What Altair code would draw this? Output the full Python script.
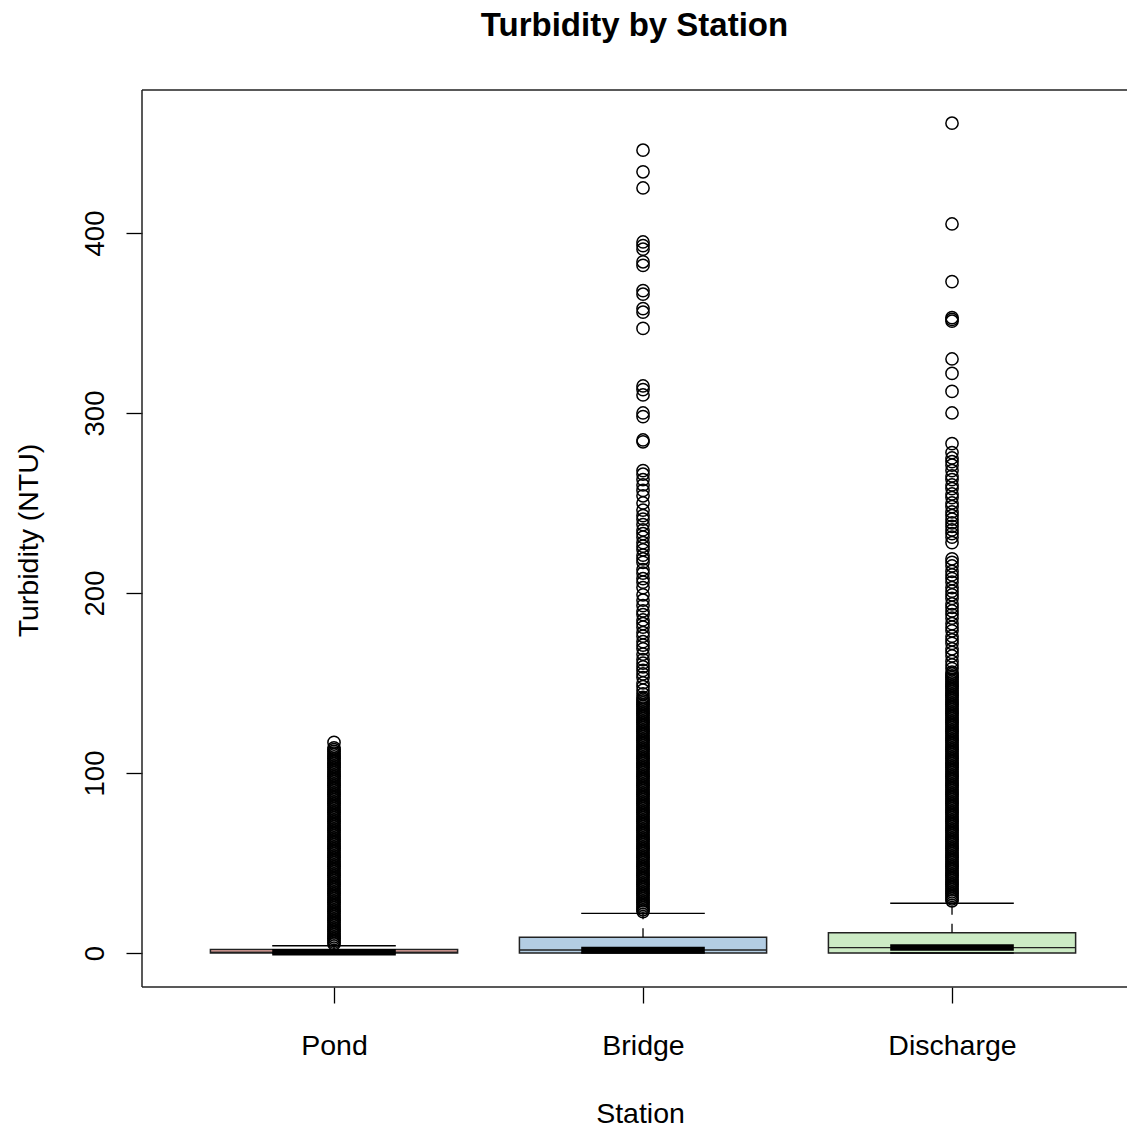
import altair as alt
import pandas as pd

# ---------------- data ----------------
stations = ["Pond", "Bridge", "Discharge"]
positions = [1, 2, 3]
box_fill = ["#FBB4AE", "#B3CDE3", "#CCEBC5"]
q1 = [0.0, 0.0, 0.0]
median = [0.4, 1.7, 3.0]
q3 = [2.0, 8.7, 11.3]
whisker_low = [0.0, 0.0, 0.0]
whisker_high = [4.0, 22.0, 27.6]

pond_out = [
    5, 6, 7, 8, 9, 10, 11, 12, 13, 14, 15, 16, 17, 18, 19, 20, 21, 22, 23, 24,
    25, 26, 27, 28, 29, 30, 31, 32, 33, 34, 35, 36, 37, 38, 39, 40, 41, 42, 43, 44,
    45, 46, 47, 48, 49, 50, 51, 52, 53, 54, 55, 56, 57, 58, 59, 60, 61, 62, 63, 64,
    65, 66, 67, 68, 69, 70, 71, 72, 73, 74, 75, 76, 77, 78, 79, 80, 81, 82, 83, 84,
    85, 86, 87, 88, 89, 90, 91, 92, 93, 94, 95, 96, 97, 98, 99, 100, 101, 102, 103, 104,
    105, 106, 107, 108, 109, 110, 111, 112, 113, 114, 117,
]

bridge_out = [
    23, 24, 25, 26, 27, 28, 29, 30, 31, 32, 33, 34, 35, 36, 37, 38, 39, 40, 41, 42,
    43, 44, 45, 46, 47, 48, 49, 50, 51, 52, 53, 54, 55, 56, 57, 58, 59, 60, 61, 62,
    63, 64, 65, 66, 67, 68, 69, 70, 71, 72, 73, 74, 75, 76, 77, 78, 79, 80, 81, 82,
    83, 84, 85, 86, 87, 88, 89, 90, 91, 92, 93, 94, 95, 96, 97, 98, 99, 100, 101, 102,
    103, 104, 105, 106, 107, 108, 109, 110, 111, 112, 113, 114, 115, 116, 117, 118, 119, 120, 121, 122,
    123, 124, 125, 126, 127, 128, 129, 130, 131, 132, 133, 134, 135, 136, 137, 138, 139, 140, 141,
    142, 144, 146, 148, 150, 153, 155, 157, 159, 161, 163, 166, 169, 171, 173, 176, 178,
    181, 183, 185, 188, 190, 193, 196, 199, 203, 206, 208, 211, 213,
    217, 219, 221, 224, 226, 228, 231, 233, 235, 238, 241, 243, 246,
    250, 254, 257, 260, 263, 266, 268, 284, 285, 298, 300, 310, 313, 315,
    347, 356, 358, 366, 368, 382, 384, 391, 393, 395, 425, 434, 446,
]

discharge_out = [
    29, 30, 31, 32, 33, 34, 35, 36, 37, 38, 39, 40, 41, 42, 43, 44, 45, 46, 47, 48,
    49, 50, 51, 52, 53, 54, 55, 56, 57, 58, 59, 60, 61, 62, 63, 64, 65, 66, 67, 68,
    69, 70, 71, 72, 73, 74, 75, 76, 77, 78, 79, 80, 81, 82, 83, 84, 85, 86, 87, 88,
    89, 90, 91, 92, 93, 94, 95, 96, 97, 98, 99, 100, 101, 102, 103, 104, 105, 106, 107, 108,
    109, 110, 111, 112, 113, 114, 115, 116, 117, 118, 119, 120, 121, 122, 123, 124, 125, 126, 127, 128,
    129, 130, 131, 132, 133, 134, 135, 136, 137, 138, 139, 140, 141, 142, 143, 144, 145, 146, 147, 148,
    149, 150, 151, 152, 153, 154, 155, 156,
    158, 160, 162, 165, 167, 169, 172, 174, 176, 179, 181, 183, 186, 188, 190, 192, 194, 197,
    199, 201, 203, 206, 208, 210, 212, 215, 217, 219,
    228, 231, 233, 235, 237, 239, 241, 243, 245, 248, 250, 253, 255, 258, 260, 263,
    265, 268, 271, 273, 275, 278, 283, 300, 312, 322, 330, 351, 352, 353, 373, 405, 461,
]

y_ticks = [0, 100, 200, 300, 400]

# ---------------- tables ----------------
boxes = pd.DataFrame({
    "station": stations, "pos": positions, "fill": box_fill,
    "q1": q1, "median": median, "q3": q3, "lo": whisker_low, "hi": whisker_high,
})

out_rows = []
for st, pos, vals in zip(stations, positions, [pond_out, bridge_out, discharge_out]):
    for v in vals:
        out_rows.append({"station": st, "pos": pos, "value": v})
outliers = pd.DataFrame(out_rows)

FONT = "Liberation Sans"
FS = 28.5
W, H = 985, 897
xs = alt.Scale(domain=[0.3786, 3.5663], nice=False, zero=False)
ys = alt.Scale(domain=[-18.89, 479.44], nice=False, zero=False)

x_axis = alt.Axis(
    values=positions, labelExpr="['', 'Pond', 'Bridge', 'Discharge'][datum.value]",
    title="Station", grid=False, domain=False, tickSize=16, tickColor="black",
    tickWidth=1.3, labelPadding=42, labelBaseline="middle", labelFontSize=FS,
    labelFont=FONT, labelColor="black", titleFont=FONT, titleFontSize=FS,
    titleFontWeight="normal", titleColor="black", titleY=126, titleX=498,
    titleBaseline="middle", titleAlign="center",
)
y_axis = alt.Axis(
    values=y_ticks, title="Turbidity (NTU)", grid=False, domain=False, tickSize=16,
    tickColor="black", tickWidth=1.3, labelAngle=270, labelAlign="center",
    labelBaseline="middle", labelPadding=31, labelFontSize=27.5, labelFont=FONT,
    labelColor="black", titleFont=FONT, titleFontSize=FS, titleFontWeight="normal",
    titleColor="black", titleAngle=270, titleX=-114, titleY=450,
    titleBaseline="middle", titleAlign="center",
)

base = alt.Chart(boxes).transform_calculate(
    xl="datum.pos - 0.4", xr="datum.pos + 0.4",
    sl="datum.pos - 0.2", sr="datum.pos + 0.2",
)

rects = base.mark_rect(stroke="#222222", strokeWidth=1.5).encode(
    x=alt.X("xl:Q", scale=xs, axis=x_axis), x2="xr:Q",
    y=alt.Y("q1:Q", scale=ys, axis=y_axis), y2="q3:Q",
    fill=alt.Fill("fill:N", scale=None),
)

whisk_up = base.mark_rule(color="black", strokeWidth=1.3, strokeDash=[9, 9]).encode(
    x=alt.X("pos:Q", scale=xs, axis=x_axis),
    y=alt.Y("q3:Q", scale=ys, axis=y_axis), y2="hi:Q",
)
cap_up = base.mark_rule(color="black", strokeWidth=1.4).encode(
    x=alt.X("sl:Q", scale=xs, axis=x_axis), x2="sr:Q",
    y=alt.Y("hi:Q", scale=ys, axis=y_axis),
)
cap_lo = base.mark_rule(color="black", strokeWidth=1.4).encode(
    x=alt.X("sl:Q", scale=xs, axis=x_axis), x2="sr:Q",
    y=alt.Y("lo:Q", scale=ys, axis=y_axis),
)
med_thin = base.mark_rule(color="#222222", strokeWidth=1.4).encode(
    x=alt.X("xl:Q", scale=xs, axis=x_axis), x2="xr:Q",
    y=alt.Y("median:Q", scale=ys, axis=y_axis),
)
med_thick = base.mark_rule(color="black", strokeWidth=6.5).encode(
    x=alt.X("sl:Q", scale=xs, axis=x_axis), x2="sr:Q",
    y=alt.Y("median:Q", scale=ys, axis=y_axis),
)

points = alt.Chart(outliers).mark_point(
    shape="circle", filled=False, color="black", strokeWidth=1.5, size=150, opacity=1,
).encode(
    x=alt.X("pos:Q", scale=xs, axis=x_axis),
    y=alt.Y("value:Q", scale=ys, axis=y_axis),
)

# plot frame (top, left, bottom); the right side runs past the visible page
frame_src = alt.Chart(pd.DataFrame({"k": [0]}))
frame_top = frame_src.mark_rule(color="#222222", strokeWidth=1.5).encode(
    x=alt.value(0), x2=alt.value(W), y=alt.value(0))
frame_bot = frame_src.mark_rule(color="#222222", strokeWidth=1.5).encode(
    x=alt.value(0), x2=alt.value(W), y=alt.value(H))
frame_left = frame_src.mark_rule(color="#222222", strokeWidth=1.5).encode(
    x=alt.value(0), y=alt.value(0), y2=alt.value(H))

chart = alt.layer(
    rects, whisk_up, cap_up, cap_lo, med_thin, med_thick, points,
    frame_top, frame_bot, frame_left,
).properties(
    width=W, height=H,
    title=alt.TitleParams(
        "Turbidity by Station", font=FONT, fontSize=33, fontWeight="bold",
        color="black", anchor="middle", offset=30, baseline="middle",
    ),
    autosize=alt.AutoSizeParams(type="none"),
    padding={"left": 134, "top": 82, "right": 0, "bottom": 140},
).configure(background="white").configure_view(stroke=None)

chart.save("out.html", embed_options={"renderer": "svg", "actions": False})
